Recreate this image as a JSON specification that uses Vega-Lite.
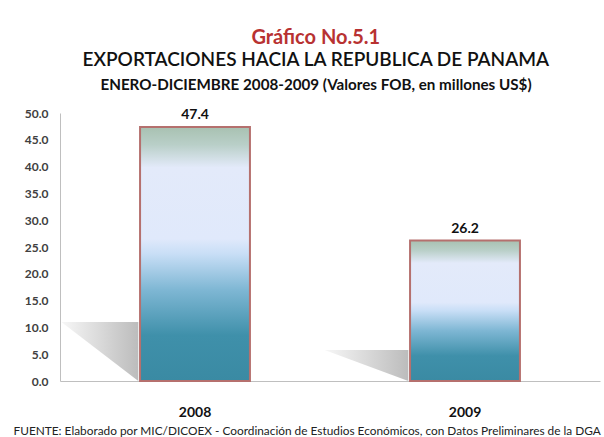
{
  "$schema": "https://vega.github.io/schema/vega-lite/v6.json",
  "background": "white",
  "padding": {"left": 13, "top": 27, "right": 4, "bottom": 0},
  "config": {
    "font": "Lato",
    "view": {"stroke": null}
  },
  "title": {
    "text": "Gráfico No.5.1",
    "subtitle": "EXPORTACIONES HACIA LA REPUBLICA DE PANAMA",
    "anchor": "middle",
    "dx": 9,
    "font": "Lato",
    "fontSize": 20,
    "fontWeight": "bold",
    "color": "#b83232",
    "subtitleFont": "Lato",
    "subtitleFontSize": 19,
    "subtitleColor": "#111111",
    "subtitleFontWeight": 600,
    "subtitlePadding": 3,
    "offset": 8
  },
  "vconcat": [
    {
      "width": 540,
      "height": 268,
      "title": {
        "text": "ENERO-DICIEMBRE 2008-2009 (Valores FOB, en millones US$)",
        "anchor": "middle",
        "dx": -14,
        "fontSize": 15.2,
        "fontWeight": "bold",
        "color": "#111111",
        "offset": 14
      },
      "layer": [
        {
          "data": {
            "values": [
              {"year": "2008", "sx": 0.005, "top": 11.0, "bot": 11.0},
              {"year": "2008", "sx": 0.29, "top": 11.0, "bot": 0},
              {"year": "2009", "sx": 0.98, "top": 5.8, "bot": 5.8},
              {"year": "2009", "sx": 1.29, "top": 5.8, "bot": 0}
            ]
          },
          "mark": {
            "type": "area",
            "interpolate": "linear",
            "fill": {
              "gradient": "linear",
              "x1": 0, "y1": 0, "x2": 1, "y2": 0,
              "stops": [
                {"offset": 0, "color": "#f7f7f7"},
                {"offset": 1, "color": "#bcbcbc"}
              ]
            }
          },
          "encoding": {
            "x": {"field": "sx", "type": "quantitative", "scale": {"domain": [0, 2]}, "axis": null},
            "y": {
              "field": "top",
              "type": "quantitative",
              "scale": {"domain": [0, 50]},
              "axis": {
                "values": [0, 5, 10, 15, 20, 25, 30, 35, 40, 45, 50],
                "labelOverlap": false,
                "format": ".1f",
                "grid": false,
                "ticks": false,
                "labelFontSize": 12,
                "labelFontWeight": "bold",
                "labelColor": "#404040",
                "labelPadding": 12,
                "domainColor": "#bfbfbf",
                "title": null
              }
            },
            "y2": {"field": "bot"},
            "detail": {"field": "year"}
          }
        },
        {
          "data": {
            "values": [
              {"year": "2008", "value": 47.4},
              {"year": "2009", "value": 26.2}
            ]
          },
          "encoding": {
            "x": {
              "field": "year",
              "type": "nominal",
              "scale": {"paddingInner": 0.593, "paddingOuter": 0.2965},
              "axis": {
                "labelAngle": 0,
                "labelFontSize": 14,
                "labelFontWeight": "bold",
                "labelColor": "#111111",
                "labelPadding": 24,
                "ticks": false,
                "domainColor": "#bfbfbf",
                "title": "FUENTE: Elaborado por MIC/DICOEX - Coordinación de Estudios Económicos, con Datos Preliminares de la DGA",
                "titleFontSize": 11.85,
                "titleFontWeight": "normal",
                "titleColor": "#222222",
                "titleAnchor": "start",
                "titleAlign": "left",
                "titleX": -47,
                "titlePadding": 6
              }
            },
            "y": {
              "field": "value",
              "type": "quantitative",
              "scale": {"domain": [0, 50]},
              "axis": {
                "values": [0, 5, 10, 15, 20, 25, 30, 35, 40, 45, 50],
                "labelOverlap": false,
                "format": ".1f",
                "grid": false,
                "ticks": false,
                "labelFontSize": 12,
                "labelFontWeight": "bold",
                "labelColor": "#404040",
                "labelPadding": 12,
                "domainColor": "#bfbfbf",
                "title": null
              }
            }
          },
          "layer": [
            {
              "mark": {
                "type": "bar",
                "stroke": "#b5706e",
                "strokeWidth": 2,
                "fill": {
                  "gradient": "linear",
                  "x1": 0, "y1": 1, "x2": 0, "y2": 0,
                  "stops": [
                    {"offset": 0, "color": "#3a8aa3"},
                    {"offset": 0.18, "color": "#3f90aa"},
                    {"offset": 0.36, "color": "#7fb7d4"},
                    {"offset": 0.5, "color": "#c8def6"},
                    {"offset": 0.56, "color": "#e0e9fb"},
                    {"offset": 0.84, "color": "#e3eafa"},
                    {"offset": 0.93, "color": "#b9cfc8"},
                    {"offset": 1, "color": "#a8c1b1"}
                  ]
                }
              }
            },
            {
              "mark": {"type": "text", "baseline": "bottom", "dy": -5, "fontSize": 14, "fontWeight": "bold", "color": "#111111"},
              "encoding": {
                "text": {"field": "value", "type": "quantitative", "format": ".1f"}
              }
            }
          ]
        }
      ],
      "resolve": {"scale": {"x": "independent"}, "axis": {"x": "independent"}}
    }
  ]
}
